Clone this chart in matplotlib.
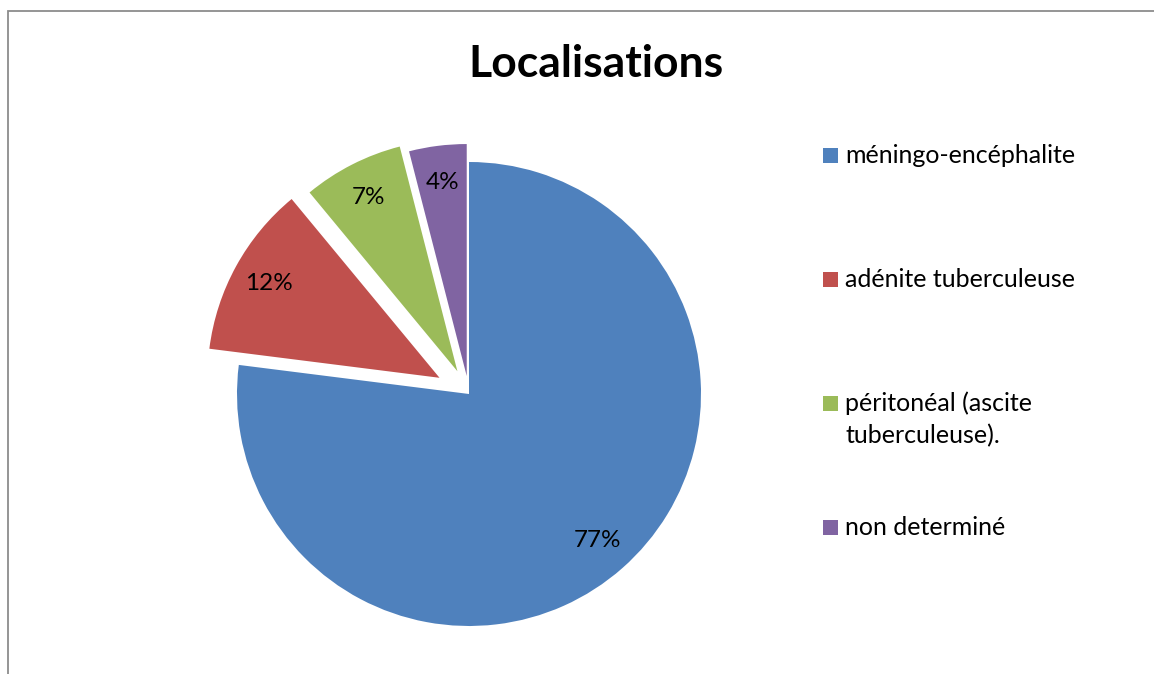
import matplotlib
matplotlib.use("Agg")
import matplotlib.pyplot as plt
from matplotlib.patches import Rectangle

# Répartition des localisations (%)
categories = ["méningo-encéphalite", "adénite tuberculeuse",
              "péritonéal (ascite\ntuberculeuse).", "non determiné"]
values = [77, 12, 7, 4]
colors = ["#4F81BD", "#C0504D", "#9BBB59", "#8064A2"]
explode = [0.0, 0.145, 0.11, 0.078]

W, H = 1154, 674
plt.rcParams["font.family"] = ["Lato", "DejaVu Sans"]

fig = plt.figure(figsize=(W / 100, H / 100), dpi=100)

# pie centred at (469, 394) px, radius 232 px
cx, cy, R = 469, 394, 232
half = 300
ax = fig.add_axes([(cx - half) / W, 1 - (cy + half) / H, 2 * half / W, 2 * half / H])
wedges, texts, autotexts = ax.pie(
    values, colors=colors, explode=explode, startangle=90, counterclock=False,
    autopct="%d%%", pctdistance=0.84, radius=1.0,
    textprops=dict(fontsize=17.5, color="black"),
)
ax.set_xlim(-half / R, half / R)
ax.set_ylim(-half / R, half / R)
ax.set_aspect("equal")
ax.axis("off")

fig.text(596 / W, 1 - 77 / H, "Localisations", ha="center", va="baseline",
         fontsize=32, fontweight="bold")

# legend drawn by hand so the marker sits on the first text line
sq = 15
line_h = 32
legend_y = [163, 287, 411, 535]
for lab, col, yb in zip(categories, colors, legend_y):
    fig.add_artist(Rectangle((823 / W, 1 - yb / H), sq / W, sq / H,
                             transform=fig.transFigure, facecolor=col,
                             edgecolor="none"))
    for i, line in enumerate(lab.split("\n")):
        fig.text(845 / W, 1 - (yb + i * line_h) / H, line, ha="left",
                 va="baseline", fontsize=18)

# chart frame (only top and left edges fall inside the image)
fig.add_artist(Rectangle((7.5 / W, -0.1), 1.2, 1.1 - 11 / H,
                         transform=fig.transFigure, facecolor="none",
                         edgecolor="#8c8c8c", lw=1.3))

fig.savefig("out.png", dpi=100)
